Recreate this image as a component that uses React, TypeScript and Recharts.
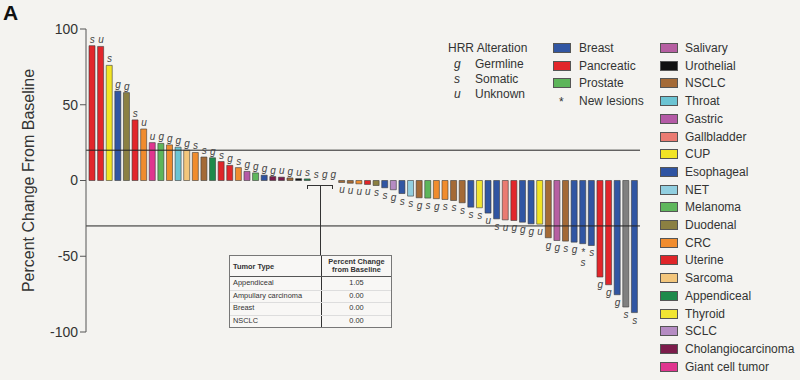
import React from 'react';
import { ComposedChart, Bar, Line, XAxis, YAxis, ReferenceLine, Cell, LabelList } from 'recharts';

const FONT = '"Liberation Sans", Arial, Helvetica, sans-serif';

// one entry per patient, sorted as in the waterfall
const tumorType = [
  'Pancreatic', 'Pancreatic', 'CUP', 'Breast', 'Duodenal', 'Pancreatic', 'CRC', 'Giant cell tumor', 'Prostate', 'CRC',
  'Throat', 'Sarcoma', 'CRC', 'NSCLC', 'Appendiceal', 'Uterine', 'Pancreatic', 'CRC', 'Gastric', 'Melanoma',
  'Esophageal', 'Cholangiocarcinoma', 'Cholangiocarcinoma', 'NSCLC', 'Urothelial', 'Appendiceal', 'Ampullary carcinoma', 'Breast', 'NSCLC',
  'NSCLC', 'NSCLC', 'CRC', 'Uterine', 'Duodenal', 'Breast', 'SCLC', 'Breast', 'NET', 'NSCLC',
  'Prostate', 'CRC', 'CRC', 'NSCLC', 'NSCLC', 'Breast', 'Thyroid', 'Breast', 'Esophageal', 'Gallbladder',
  'Pancreatic', 'Breast', 'Breast', 'CUP', 'NSCLC', 'Salivary', 'NSCLC', 'Breast', 'Breast', 'Breast',
  'Pancreatic', 'Pancreatic', 'Breast', 'Other', 'Breast',
];

const pctChange = [
  89, 88.5, 76, 59, 58, 40, 34, 25, 24.5, 23.5,
  22, 20, 18.5, 15.5, 15, 12.5, 10, 8.5, 6, 5,
  3.5, 2.6, 2.2, 1.7, 1.2, 1.05, 0, 0, 0,
  -1.3, -1.8, -2.2, -2.6, -3.3, -4.8, -6.1, -8.6, -10.3, -11.4,
  -11.6, -12, -12.5, -13.2, -14.7, -17.6, -18, -21.5, -25.3, -26,
  -26.4, -27.5, -28.6, -28.8, -37.8, -39.6, -40, -40.7, -41.7, -42.9,
  -63.7, -68.8, -75.4, -83.5, -87.2,
];

// g = germline, s = somatic, u = unknown
const hrrStatus = [
  's', 'u', 's', 'g', 'g', 's', 'u', 'u', 'g', 'g',
  'g', 'g', 's', 's', 'g', 's', 'g', 's', 'g', 'g',
  'g', 'g', 'u', 'g', 'u', 's', 's', 'g', 'g',
  'u', 'u', 'u', 'u', 's', 's', 'g', 's', 's', 'g',
  's', 'g', 's', 's', 's', 's', 's', 'u', 's', 'u',
  'g', 'g', 'g', 'u', 'g', 'g', 's', 'g', 's', 's',
  'g', 'g', 'g', 's', 's',
];

const newLesionBars = [58];

const yTicks = [100, 50, 0, -50, -100];
const refLines = [20, -30];

const hrrLegend = [
  ['g', 'Germline'],
  ['s', 'Somatic'],
  ['u', 'Unknown'],
];
const mainTypes = ['Breast', 'Pancreatic', 'Prostate'];
const otherTypes = [
  'Salivary', 'Urothelial', 'NSCLC', 'Throat', 'Gastric', 'Gallbladder', 'CUP', 'Esophageal', 'NET', 'Melanoma',
  'Duodenal', 'CRC', 'Uterine', 'Sarcoma', 'Appendiceal', 'Thyroid', 'SCLC', 'Cholangiocarcinoma', 'Giant cell tumor',
];

const tableRows = [
  ['Appendiceal', '1.05'],
  ['Ampullary carcinoma', '0.00'],
  ['Breast', '0.00'],
  ['NSCLC', '0.00'],
];

const COLORS: Record<string, string> = {
  Breast: '#3156a3',
  Pancreatic: '#e2262b',
  Prostate: '#5db55a',
  Salivary: '#b65fa2',
  Urothelial: '#111111',
  NSCLC: '#a46a36',
  Throat: '#6cc4d3',
  Gastric: '#b45aa6',
  Gallbladder: '#ea7b72',
  CUP: '#f2e424',
  Esophageal: '#2f54a2',
  NET: '#92cfe0',
  Melanoma: '#5fb75c',
  Duodenal: '#8b8042',
  CRC: '#f08c2e',
  Uterine: '#df2529',
  Sarcoma: '#f3c67c',
  Appendiceal: '#1e8a4b',
  Thyroid: '#f1e532',
  SCLC: '#b58cc3',
  Cholangiocarcinoma: '#7c1c4b',
  'Giant cell tumor': '#e0358f',
  'Ampullary carcinoma': '#999999',
  Other: '#808080',
};

const chartData = tumorType.map((t, i) => ({
  id: String(i + 1),
  tumor: t,
  pct: pctChange[i],
  hrr: hrrStatus[i],
  star: newLesionBars.includes(i + 1),
}));

// labels hang off the (invisible) line points, which sit at each bar's end
const renderHrr = (props: any) => {
  const { x, y, value } = props;
  const d = chartData.find((c) => c.id === String(value));
  if (!d || x == null || y == null) return null;
  const style = { fontFamily: FONT, fontStyle: 'italic', fontSize: 10, fill: '#444' } as any;
  if (d.pct >= 0) {
    return <text x={x} y={y - 3} textAnchor="middle" style={style}>{d.hrr}</text>;
  }
  if (d.star) {
    return (
      <g>
        <text x={x} y={y + 12} textAnchor="middle" style={style}>*</text>
        <text x={x} y={y + 22} textAnchor="middle" style={style}>{d.hrr}</text>
      </g>
    );
  }
  return <text x={x} y={y + 11} textAnchor="middle" style={style}>{d.hrr}</text>;
};

const renderYTitle = (props: any) => {
  const vb = props.viewBox || { x: 0, y: 29, width: 86, height: 303 };
  const x = vb.x + 28;
  const y = vb.y + vb.height / 2;
  return (
    <text x={x} y={y} transform={`rotate(-90, ${x}, ${y})`} textAnchor="middle" dominantBaseline="central"
      style={{ fontFamily: FONT, fontSize: 16, fill: '#333' }}>
      Percent Change From Baseline
    </text>
  );
};

const swatch = (color: string) => ({
  position: 'absolute' as const, width: 16, height: 8, background: color, border: '1px solid #555',
});

export default function App() {
  return (
    <div style={{ position: 'fixed', left: 0, top: 0, width: 800, height: 380, background: '#f4f3f0', fontFamily: FONT, color: '#333', overflow: 'hidden' }}>
      <ComposedChart width={800} height={380} data={chartData} margin={{ top: 29, right: 160, bottom: 48, left: 0 }}>
        <XAxis dataKey="id" type="category" hide padding={{ left: 2, right: 1 }} />
        <YAxis
          domain={[-100, 100]}
          ticks={yTicks}
          interval={0}
          width={86}
          tickSize={6}
          axisLine={{ stroke: '#555' }}
          tickLine={{ stroke: '#555' }}
          tick={{ fontSize: 14, fill: '#333', fontFamily: FONT }}
          label={{ content: renderYTitle }}
        />
        {refLines.map((v) => (
          <ReferenceLine key={v} y={v} stroke="#222" strokeWidth={1} />
        ))}
        <Bar dataKey="pct" barSize={6} stroke="#3a3a3a" strokeWidth={0.6} isAnimationActive={false}>
          {chartData.map((d) => (
            <Cell key={d.id} fill={COLORS[d.tumor]} />
          ))}
        </Bar>
        <Line dataKey="pct" stroke="none" dot={false} activeDot={false} legendType="none" isAnimationActive={false}>
          <LabelList dataKey="id" content={renderHrr} />
        </Line>
      </ComposedChart>

      <div style={{ position: 'absolute', left: 3, top: 1, fontSize: 21, fontWeight: 'bold', color: '#111' }}>A</div>

      {/* HRR legend */}
      <div style={{ position: 'absolute', left: 448, top: 41, fontSize: 12, lineHeight: '14px' }}>HRR Alteration</div>
      {hrrLegend.map(([k, label], i) => (
        <React.Fragment key={k}>
          <div style={{ position: 'absolute', left: 454, top: 57 + i * 15, fontSize: 12, lineHeight: '14px', fontStyle: 'italic' }}>{k}</div>
          <div style={{ position: 'absolute', left: 475, top: 57 + i * 15, fontSize: 12, lineHeight: '14px' }}>{label}</div>
        </React.Fragment>
      ))}

      {/* main tumor types */}
      {mainTypes.map((t, i) => (
        <React.Fragment key={t}>
          <div style={{ ...swatch(COLORS[t]), left: 553, top: 43 + i * 17.7 }} />
          <div style={{ position: 'absolute', left: 579, top: 41 + i * 17.7, fontSize: 12, lineHeight: '14px' }}>{t}</div>
        </React.Fragment>
      ))}
      <div style={{ position: 'absolute', left: 559, top: 95, fontSize: 12, lineHeight: '14px' }}>*</div>
      <div style={{ position: 'absolute', left: 579, top: 94, fontSize: 12, lineHeight: '14px' }}>New lesions</div>

      {/* other tumor types */}
      {otherTypes.map((t, i) => (
        <React.Fragment key={t}>
          <div style={{ ...swatch(COLORS[t]), left: 660, top: 43 + i * 17.7 }} />
          <div style={{ position: 'absolute', left: 685, top: 41 + i * 17.7, fontSize: 12, lineHeight: '14px', whiteSpace: 'nowrap' }}>{t}</div>
        </React.Fragment>
      ))}

      {/* bracket + callout table for zero-change patients */}
      <div style={{ position: 'absolute', left: 307, top: 185, width: 24, height: 3, borderTop: '1.3px solid #333', borderLeft: '1.3px solid #333', borderRight: '1.3px solid #333' }} />
      <div style={{ position: 'absolute', left: 319.5, top: 186, width: 1.3, height: 70, background: '#333' }} />
      <div style={{ position: 'absolute', left: 229, top: 255, width: 161, height: 71, border: '1px solid #777', background: '#f8f7f5', fontSize: 7.4, color: '#333' }}>
        <div style={{ position: 'absolute', left: 91, top: 0, width: 1.3, height: 71, background: '#333' }} />
        <div style={{ position: 'absolute', left: 0, top: 20, width: 161, height: 1, background: '#555' }} />
        <div style={{ position: 'absolute', left: 3, top: 6, fontWeight: 'bold' }}>Tumor Type</div>
        <div style={{ position: 'absolute', left: 92, top: 2, width: 69, textAlign: 'center', fontWeight: 'bold', lineHeight: '8px' }}>
          Percent Change<br />from Baseline
        </div>
        {tableRows.map(([name, val], i) => (
          <React.Fragment key={name}>
            <div style={{ position: 'absolute', left: 3, top: 22 + i * 12.5, lineHeight: '9px' }}>{name}</div>
            <div style={{ position: 'absolute', left: 92, top: 22 + i * 12.5, width: 69, textAlign: 'center', lineHeight: '9px' }}>{val}</div>
            {i > 0 && <div style={{ position: 'absolute', left: 0, top: 21 + i * 12.5, width: 161, height: 1, background: '#ddd' }} />}
          </React.Fragment>
        ))}
      </div>
    </div>
  );
}
